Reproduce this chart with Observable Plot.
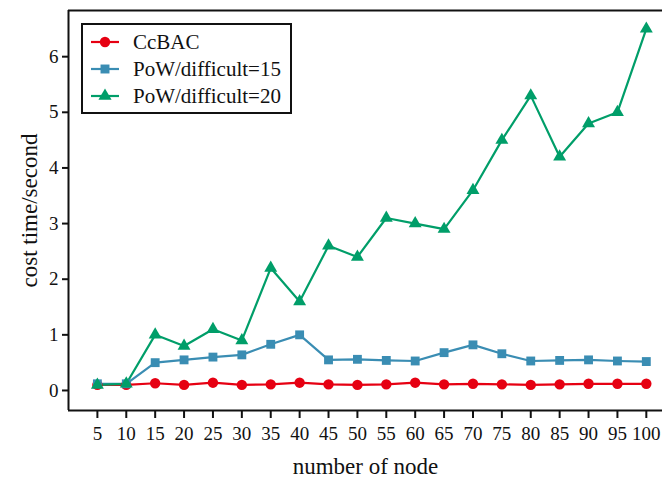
<!DOCTYPE html>
<html>
<head>
<meta charset="utf-8">
<script src="https://cdn.jsdelivr.net/npm/d3@7"></script>
<script src="https://cdn.jsdelivr.net/npm/@observablehq/plot@0.6"></script>
<style>
  html, body { margin: 0; padding: 0; background: #fff; }
  #wrap { position: relative; width: 662px; height: 480px; font-family: "Liberation Serif", "Times New Roman", serif; }
  #wrap svg text { font-family: "Liberation Serif", "Times New Roman", serif; }
  #legend { position: absolute; left: 81px; top: 23px; width: 207px; height: 87px; border: 2px solid #111; background: #fff; }
  .row { position: absolute; left: 8px; height: 24px; display: flex; align-items: center; font-size: 21px; color: #111; }
  .row svg { margin-right: 14px; }
</style>
</head>
<body>
<div id="wrap"></div>
<script>
const nodes = [5, 10, 15, 20, 25, 30, 35, 40, 45, 50, 55, 60, 65, 70, 75, 80, 85, 90, 95, 100];
const ccbac = [0.10, 0.10, 0.13, 0.10, 0.14, 0.10, 0.11, 0.14, 0.11, 0.10, 0.11, 0.14, 0.11, 0.12, 0.11, 0.10, 0.11, 0.12, 0.12, 0.12];
const pow15 = [0.12, 0.12, 0.50, 0.55, 0.60, 0.64, 0.83, 1.00, 0.55, 0.56, 0.54, 0.53, 0.68, 0.82, 0.66, 0.53, 0.54, 0.55, 0.53, 0.52];
const pow20 = [0.10, 0.12, 1.00, 0.80, 1.10, 0.90, 2.20, 1.60, 2.60, 2.40, 3.10, 3.00, 2.90, 3.60, 4.50, 5.30, 4.20, 4.80, 5.00, 6.50];
const seriesNames = ["CcBAC", "PoW/difficult=15", "PoW/difficult=20"];
const seriesColors = ["#e60012", "#3a8db3", "#009e69"];
const seriesSymbols = ["circle", "square", "triangle"];
const yTicks = [0, 1, 2, 3, 4, 5, 6];
const xDomain = [0, 102.8];
const yDomain = [-0.36, 6.83];

const allValues = [ccbac, pow15, pow20];
const rows = [];
allValues.forEach((vals, s) => vals.forEach((v, i) => rows.push({x: nodes[i], y: v, s: seriesNames[s]})));

const marks = [];
seriesNames.forEach((name, s) => {
  const d = rows.filter(r => r.s === name);
  marks.push(Plot.line(d, {x: "x", y: "y", stroke: seriesColors[s], strokeWidth: 2.2}));
});
seriesNames.forEach((name, s) => {
  const d = rows.filter(r => r.s === name);
  marks.push(Plot.dot(d, {x: "x", y: "y", fill: seriesColors[s], stroke: "none",
    symbol: () => seriesSymbols[s], r: s === 0 ? 5.2 : s === 1 ? 5.0 : 4.8}));
});

const serif = "Liberation Serif, Times New Roman, serif";
const chart = Plot.plot({
  width: 662,
  height: 480,
  marginLeft: 68,
  marginRight: 0,
  marginTop: 10,
  marginBottom: 70,
  style: {fontFamily: serif, fontSize: "19px", color: "#111", background: "#fff"},
  x: {domain: xDomain},
  y: {domain: yDomain},
  symbol: {type: "identity"},
  marks: [
    Plot.axisX({ticks: nodes, tickSize: 8, tickPadding: 8, strokeWidth: 2, fontSize: 19, fontFamily: serif,
      label: null}),
    Plot.axisY({ticks: yTicks, tickSize: 6, tickPadding: 4, strokeWidth: 2, fontSize: 19, fontFamily: serif,
      label: null}),
    Plot.text(["number of node"], {frameAnchor: "bottom", dy: 56, fontSize: 23, fontFamily: serif, fill: "#111", lineAnchor: "middle", textAnchor: "middle"}),
    Plot.text(["cost time/second"], {frameAnchor: "left", dx: -39, rotate: -90, fontSize: 23, fontFamily: serif, fill: "#111", lineAnchor: "middle", textAnchor: "middle"}),
    Plot.ruleY([yDomain[0], yDomain[1]], {stroke: "#111", strokeWidth: 2}),
    Plot.ruleX([xDomain[0]], {stroke: "#111", strokeWidth: 2}),
    ...marks
  ]
});

const wrap = document.getElementById("wrap");
wrap.appendChild(chart);

const legend = document.createElement("div");
legend.id = "legend";
const rowTops = [5, 32, 59];
seriesNames.forEach((name, s) => {
  const row = document.createElement("div");
  row.className = "row";
  row.style.top = rowTops[s] + "px";
  const sym = d3.symbol(s === 0 ? d3.symbolCircle : s === 1 ? d3.symbolSquare : d3.symbolTriangle, s === 0 ? 85 : s === 1 ? 80 : 75)();
  row.innerHTML = `<svg width="28" height="16" viewBox="0 0 28 16"><line x1="0" y1="8" x2="28" y2="8" stroke="${seriesColors[s]}" stroke-width="2.2"/><path d="${sym}" transform="translate(14,8)" fill="${seriesColors[s]}"/></svg><span>${name}</span>`;
  legend.appendChild(row);
});
wrap.appendChild(legend);
</script>
</body>
</html>
